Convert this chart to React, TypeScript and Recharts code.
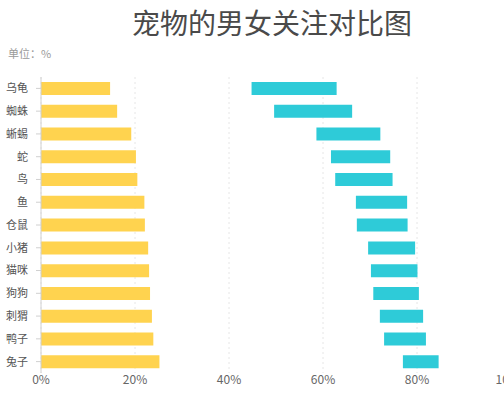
import { BarChart, Bar, XAxis, YAxis, CartesianGrid } from 'recharts'

// ============================================
// Data
// ============================================

const categories = ['乌龟', '蜘蛛', '蜥蜴', '蛇', '鸟', '鱼', '仓鼠', '小猪', '猫咪', '狗狗', '刺猬', '鸭子', '兔子']
// 男性关注 (yellow, from 0)
const maleValues = [14.7, 16.2, 19.2, 20.2, 20.5, 22.0, 22.1, 22.8, 23.0, 23.2, 23.6, 23.9, 25.2]
// 女性关注区间 (cyan, floating)
const femaleStart = [44.8, 49.6, 58.6, 61.7, 62.6, 67.0, 67.2, 69.6, 70.2, 70.7, 72.1, 73.0, 77.0]
const femaleEnd = [62.9, 66.2, 72.2, 74.3, 74.8, 77.9, 78.0, 79.6, 80.1, 80.4, 81.3, 81.9, 84.6]
const xTicks = [0, 20, 40, 60, 80, 100]

const data = categories.map((name, i) => ({
  name,
  male: maleValues[i],
  gap: femaleStart[i] - maleValues[i],
  female: femaleEnd[i] - femaleStart[i],
}))

const FONT = '"Noto Sans CJK SC", "Noto Sans", sans-serif'

export default function App() {
  return (
    <div
      style={{
        position: 'absolute',
        left: 0,
        top: 0,
        width: 504,
        height: 400,
        overflow: 'hidden',
        background: '#fff',
        fontFamily: FONT,
      }}
    >
      {/* Title */}
      <div
        style={{
          position: 'absolute',
          left: 0,
          top: 8,
          width: 544,
          textAlign: 'center',
          fontSize: 28,
          lineHeight: '28px',
          color: '#4a4a4a',
        }}
      >
        宠物的男女关注对比图
      </div>
      <div
        style={{
          position: 'absolute',
          left: 8,
          top: 46,
          fontSize: 11,
          lineHeight: '14px',
          color: '#9a9a9a',
        }}
      >
        单位：%
      </div>

      <div style={{ position: 'absolute', left: 0, top: 0 }}>
        <BarChart
          width={540}
          height={400}
          data={data}
          layout="vertical"
          margin={{ top: 77, right: 29, bottom: 7, left: 0 }}
          style={{ fontFamily: FONT }}
        >
          <CartesianGrid horizontal={false} strokeDasharray="2 3" stroke="#e6e6e6" />
          <XAxis
            type="number"
            domain={[0, 100]}
            ticks={xTicks}
            tickFormatter={(v) => `${v}%`}
            axisLine={false}
            tickLine={false}
            tickSize={0}
            tickMargin={2}
            height={20}
            interval={0}
            tick={{ fill: '#666', fontSize: 12 }}
          />
          <YAxis
            type="category"
            dataKey="name"
            width={41}
            axisLine={{ stroke: '#d0d0d0' }}
            tickLine={{ stroke: '#d0d0d0' }}
            tickSize={5}
            tickMargin={8}
            interval={0}
            tick={{ fill: '#555', fontSize: 11 }}
          />
          <Bar dataKey="male" stackId="a" fill="#FFD34F" barSize={13} isAnimationActive={false} />
          <Bar dataKey="gap" stackId="a" fill="transparent" barSize={13} isAnimationActive={false} />
          <Bar dataKey="female" stackId="a" fill="#2ECBD8" barSize={13} isAnimationActive={false} />
        </BarChart>
      </div>
    </div>
  )
}
